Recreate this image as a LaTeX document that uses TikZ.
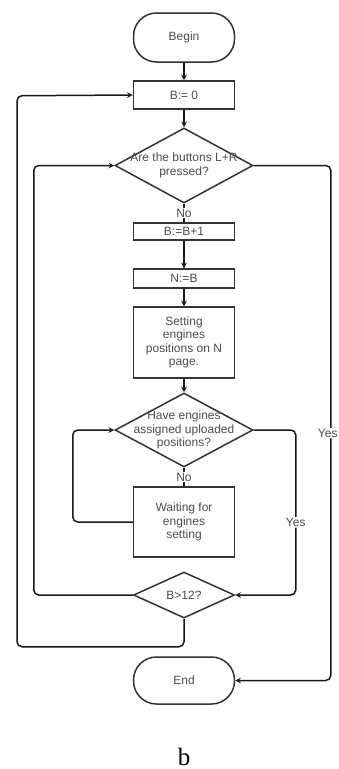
\documentclass[tikz,border=0pt]{standalone}
\usepackage{fontspec}
\setmainfont{Liberation Sans}
\newfontfamily\capfont{Liberation Serif}
\usetikzlibrary{shapes.geometric}

\begin{document}
\begin{tikzpicture}[>=stealth, x=1pt, y=-1pt,
    every node/.style={font=\fontsize{12}{13.5}\selectfont, text=black!70},
    line/.style={line width=1.5pt, draw=black!90, rounded corners=5pt},
    box/.style={draw=black!80, line width=1.5pt, minimum width=101pt, inner sep=0pt, align=center},
    term/.style={box, rounded corners=23pt},
    cond/.style={diamond, draw=black!80, line width=1.5pt, inner sep=0pt},
    lbl/.style={fill=white, inner sep=1pt}]
        % --- 1. Page ---
        \useasboundingbox (0,0) rectangle (338,769);

        % --- 2. Blocks ---
        \node[term, minimum height=49pt] (begin) at (184,37.5) {Begin};
        \node[box, minimum height=28pt] (b0) at (184,95) {B:= 0};
        \node[cond, minimum width=138pt, minimum height=75pt,
              label={[align=center]center:Are the buttons L+R\\pressed?}] (q1) at (184,165.5) {};
        \node[box, minimum height=17pt] (inc) at (184,231.5) {B:=B+1};
        \node[box, minimum height=19pt] (nb) at (184,278.5) {N:=B};
        \node[box, minimum height=71pt] (set) at (184,342.5) {Setting\\engines\\positions on N\\page.};
        \node[cond, minimum width=138pt, minimum height=74pt,
              label={[align=center]center:Have engines\\assigned uploaded\\positions?}] (q2) at (184,430) {};
        \node[box, minimum height=70pt] (wait) at (184,522) {Waiting for\\engines\\setting};
        \node[cond, minimum width=101pt, minimum height=46pt,
              label={center:B>12?}] (q3) at (184,595) {};
        \node[term, minimum height=47pt] (end) at (184,680.5) {End};

        % --- 3. Main flow ---
        \draw[line, ->] (begin) -- (b0);
        \draw[line, ->] (b0) -- (q1);
        \draw[line] (q1) -- node[lbl] {No} (inc);
        \draw[line, ->] (inc) -- (nb);
        \draw[line, ->] (nb) -- (set);
        \draw[line, ->] (set) -- (q2);
        \draw[line] (q2) -- node[lbl] {No} (wait);

        % --- 4. Loops ---
        \draw[line, ->] (wait.west) -- ++(-60,0) |- (q2.west);
        \draw[line, ->] (q2.east) -- ++(42,0) |- node[lbl, pos=0.28] {Yes} (q3.east);
        \draw[line, ->] (q3.west) -- ++(-99,0) |- (q1.west);
        \draw[line, ->] (q3.south) -- ++(0,28) -| ++(-167,-551) -- (b0.west);
        \draw[line, ->] (q1.east) -- ++(77,0) |- node[lbl, pos=0.26, xshift=-3pt] {Yes} (end.east);

        % --- 5. Caption ---
        \node[anchor=base, font=\capfont\fontsize{25}{25}\selectfont, text=black] (cap) at (184,765) {b};
\end{tikzpicture}
\end{document}
